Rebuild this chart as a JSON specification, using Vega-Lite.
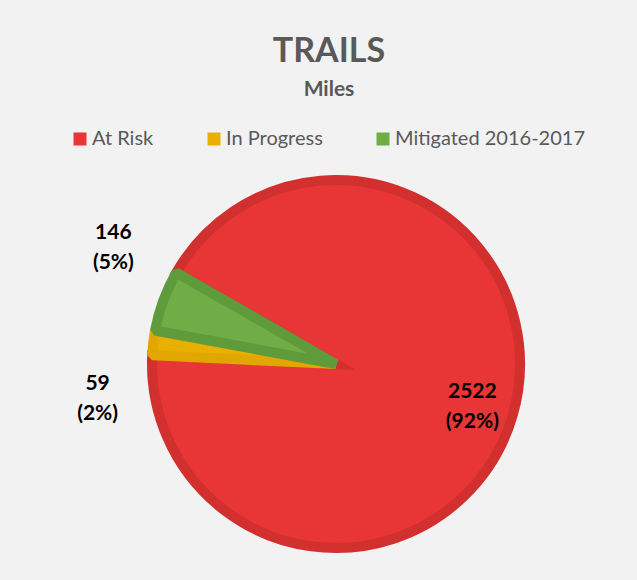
{
  "$schema": "https://vega.github.io/schema/vega-lite/v6.json",
  "width": 602,
  "height": 432,
  "autosize": {"type": "none"},
  "padding": {"left": 35, "top": 148, "right": 0, "bottom": 0},
  "background": "#f2f2f2",
  "view": {"stroke": null},
  "title": {
    "text": "TRAILS",
    "subtitle": "Miles",
    "anchor": "middle",
    "frame": "group",
    "offset": 29,
    "dx": -7,
    "font": "Lato",
    "fontSize": 34,
    "fontWeight": "bold",
    "color": "#595959",
    "subtitleFont": "Lato",
    "subtitleFontSize": 21,
    "subtitleFontWeight": "bold",
    "subtitleColor": "#595959",
    "subtitlePadding": 10
  },
  "data": {
    "values": [
      {"category": "At Risk", "miles": 2522, "label": ["2522", "(92%)"]},
      {"category": "In Progress", "miles": 59, "label": ["59", "(2%)"]},
      {"category": "Mitigated 2016-2017", "miles": 146, "label": ["146", "(5%)"]}
    ]
  },
  "encoding": {
    "theta": {"field": "miles", "type": "quantitative", "stack": true, "scale": {"range": [-1.0514, 5.2318]}},
    "order": {"field": "category", "type": "ordinal", "sort": "ascending"}
  },
  "layer": [
    {
      "mark": {"type": "arc", "outerRadius": 184, "strokeWidth": 10, "strokeJoin": "miter", "strokeMiterLimit": 10},
      "encoding": {
        "color": {
          "field": "category",
          "type": "nominal",
          "scale": {"domain": ["At Risk", "In Progress", "Mitigated 2016-2017"], "range": ["#e83535", "#eab000", "#70ad47"]},
          "legend": {
            "orient": "none",
            "legendX": 35,
            "legendY": -19,
            "direction": "horizontal",
            "title": null,
            "symbolType": "square",
            "symbolSize": 169,
            "symbolStrokeWidth": 0,
            "symbolOpacity": 1,
            "labelFont": "Lato",
            "labelFontSize": 20,
            "labelColor": "#595959",
            "labelOffset": 2,
            "labelLimit": 400,
            "columnPadding": 50,
            "padding": 0
          }
        },
        "stroke": {
          "field": "category",
          "type": "nominal",
          "scale": {"domain": ["At Risk", "In Progress", "Mitigated 2016-2017"], "range": ["#d22f2f", "#e2a600", "#5f9a3b"]},
          "legend": null
        },
        "opacity": {"condition": {"test": "datum.category === 'At Risk'", "value": 1}, "value": 0}
      }
    },
    {
      "mark": {"type": "arc", "outerRadius": 184, "strokeWidth": 10, "strokeJoin": "bevel"},
      "encoding": {
        "color": {
          "field": "category",
          "type": "nominal",
          "scale": {"domain": ["At Risk", "In Progress", "Mitigated 2016-2017"], "range": ["#e83535", "#eab000", "#70ad47"]},
          "legend": {
            "orient": "none",
            "legendX": 35,
            "legendY": -19,
            "direction": "horizontal",
            "title": null,
            "symbolType": "square",
            "symbolSize": 169,
            "symbolStrokeWidth": 0,
            "symbolOpacity": 1,
            "labelFont": "Lato",
            "labelFontSize": 20,
            "labelColor": "#595959",
            "labelOffset": 2,
            "labelLimit": 400,
            "columnPadding": 50,
            "padding": 0
          }
        },
        "stroke": {
          "field": "category",
          "type": "nominal",
          "scale": {"domain": ["At Risk", "In Progress", "Mitigated 2016-2017"], "range": ["#d22f2f", "#e2a600", "#5f9a3b"]},
          "legend": null
        },
        "opacity": {"condition": {"test": "datum.category === 'At Risk'", "value": 0}, "value": 1}
      }
    },
    {
      "mark": {"type": "text", "radius": 142, "dy": -12, "font": "Lato", "fontSize": 21, "fontWeight": "bold", "lineHeight": 30, "color": "black", "baseline": "middle", "align": "center"},
      "encoding": {
        "detail": {"field": "category", "type": "nominal"},
        "text": {"condition": {"test": "datum.category === 'At Risk'", "field": "label"}, "value": ""}
      }
    },
    {
      "mark": {"type": "text", "radius": 252, "dx": 14, "dy": -44, "font": "Lato", "fontSize": 21, "fontWeight": "bold", "lineHeight": 30, "color": "black", "baseline": "middle", "align": "center"},
      "encoding": {
        "detail": {"field": "category", "type": "nominal"},
        "text": {"condition": {"test": "datum.category === 'Mitigated 2016-2017'", "field": "label"}, "value": ""}
      }
    },
    {
      "mark": {"type": "text", "radius": 240, "dx": 0, "dy": 48, "font": "Lato", "fontSize": 21, "fontWeight": "bold", "lineHeight": 30, "color": "black", "baseline": "middle", "align": "center"},
      "encoding": {
        "detail": {"field": "category", "type": "nominal"},
        "text": {"condition": {"test": "datum.category === 'In Progress'", "field": "label"}, "value": ""}
      }
    }
  ]
}
